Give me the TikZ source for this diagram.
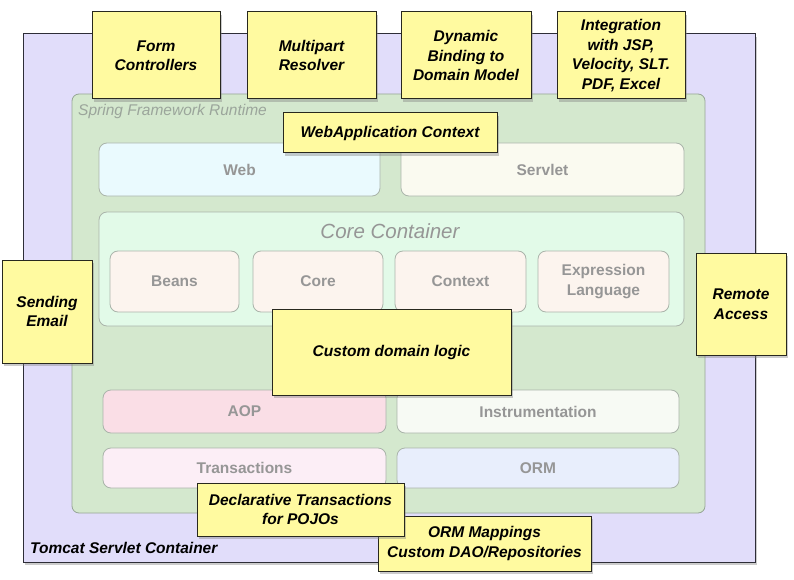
\documentclass[tikz,border=0pt]{standalone}
\usepackage{fontspec}
\setmainfont{Liberation Sans}
\usetikzlibrary{shadows}
\definecolor{tomfill}{RGB}{225,221,250}
\definecolor{tomdraw}{RGB}{45,45,55}
\definecolor{grfill}{RGB}{212,232,206}
\definecolor{grdraw}{RGB}{150,165,150}
\definecolor{notefill}{RGB}{255,250,160}
\definecolor{notedraw}{RGB}{40,40,30}
\definecolor{modtext}{RGB}{150,150,150}
\definecolor{moddraw}{RGB}{170,180,170}
\definecolor{webfill}{RGB}{234,250,254}
\definecolor{servfill}{RGB}{250,250,240}
\definecolor{corefill}{RGB}{226,250,232}
\definecolor{beanfill}{RGB}{252,244,238}
\definecolor{aopfill}{RGB}{250,222,230}
\definecolor{instfill}{RGB}{247,250,244}
\definecolor{transfill}{RGB}{252,238,246}
\definecolor{ormfill}{RGB}{232,238,252}
\definecolor{lbltext}{RGB}{155,165,155}
\newcommand{\notefont}{\fontsize{15.5}{19.5}\selectfont\bfseries\itshape}
\newcommand{\modfont}{\fontsize{15.5}{19.5}\selectfont\bfseries}
\tikzset{
  note/.style={draw=notedraw, fill=notefill, line width=1pt, inner sep=0pt, align=center,
    font=\notefont, drop shadow={shadow xshift=2pt, shadow yshift=-3pt, opacity=0.4}},
  modbox/.style={draw=moddraw, rounded corners=8pt, line width=0.8pt, inner sep=0pt,
    font=\modfont, text=modtext, align=center},
}
\begin{document}
\begin{tikzpicture}[x=1pt,y=-1pt]
\useasboundingbox (0,0) rectangle (794,580);
% Tomcat container
\node[draw=tomdraw, fill=tomfill, line width=1pt, minimum width=732pt, minimum height=528pt,
  inner sep=0pt, drop shadow={shadow xshift=2pt, shadow yshift=-3pt, opacity=0.4}] (tomcat) at (389,298) {};
\node[anchor=west, font=\fontsize{15.5}{19.5}\selectfont\bfseries\itshape, inner sep=0pt] (tomlbl) at (30,548) {Tomcat Servlet Container};
% Spring runtime
\node[draw=grdraw, fill=grfill, line width=0.8pt, rounded corners=7pt, minimum width=633pt, minimum height=419pt, inner sep=0pt] (spring) at (388.5,303.5) {};
\node[anchor=west, font=\fontsize{15.5}{19.5}\selectfont\itshape, text=lbltext, inner sep=0pt] (springlbl) at (78,111) {Spring Framework Runtime};
% modules
\node[modbox, fill=webfill, minimum width=281pt, minimum height=53pt] (web) at (239.5,169.5) {Web};
\node[modbox, fill=servfill, minimum width=283pt, minimum height=53pt] (servlet) at (542.5,169.5) {Servlet};
\node[modbox, fill=corefill, minimum width=585pt, minimum height=114pt] (corecont) at (391.5,269) {};
\node[font=\fontsize{20.5}{24}\selectfont\itshape, text=modtext, inner sep=0pt] (corelbl) at (390,231) {Core Container};
\node[modbox, fill=beanfill, minimum width=129pt, minimum height=61pt] (beans) at (174.5,281.5) {Beans};
\node[modbox, fill=beanfill, minimum width=130pt, minimum height=61pt] (core) at (318,281.5) {Core};
\node[modbox, fill=beanfill, minimum width=131pt, minimum height=61pt] (context) at (460.5,281.5) {Context};
\node[modbox, fill=beanfill, minimum width=131pt, minimum height=61pt] (expr) at (603.5,281.5) {Expression\\Language};
\node[modbox, fill=aopfill, minimum width=283pt, minimum height=43pt] (aop) at (244.5,411.5) {AOP};
\node[modbox, fill=instfill, minimum width=282pt, minimum height=43pt] (instr) at (538,411.5) {Instrumentation};
\node[modbox, fill=transfill, minimum width=283pt, minimum height=40pt] (trans) at (244.5,468) {Transactions};
\node[modbox, fill=ormfill, minimum width=282pt, minimum height=40pt] (orm) at (538,468) {ORM};
% notes
\node[note, minimum width=128pt, minimum height=87pt] (form) at (156,55.5) {Form\\Controllers};
\node[note, minimum width=129pt, minimum height=87pt] (multi) at (311.5,55.5) {Multipart\\Resolver};
\node[note, minimum width=130pt, minimum height=87pt] (dyn) at (466,55.5) {Dynamic\\Binding to\\Domain Model};
\node[note, minimum width=128pt, minimum height=87pt] (integ) at (621,55.5) {Integration\\with JSP,\\Velocity, SLT.\\PDF, Excel};
\node[note, minimum width=214pt, minimum height=40pt] (webapp) at (390,133) {WebApplication Context};
\node[note, minimum width=90pt, minimum height=103pt] (email) at (47,311.5) {Sending\\Email};
\node[note, minimum width=90pt, minimum height=102pt] (remote) at (741,304) {Remote\\Access};
\node[note, minimum width=239pt, minimum height=86pt] (custom) at (391.5,352) {Custom domain logic};
\node[note, minimum width=213pt, minimum height=55pt] (ormmap) at (484.5,543.5) {ORM Mappings\\Custom DAO/Repositories};
\node[note, minimum width=207pt, minimum height=53pt] (decl) at (300.5,509.5) {Declarative Transactions\\for POJOs};
\end{tikzpicture}
\end{document}
